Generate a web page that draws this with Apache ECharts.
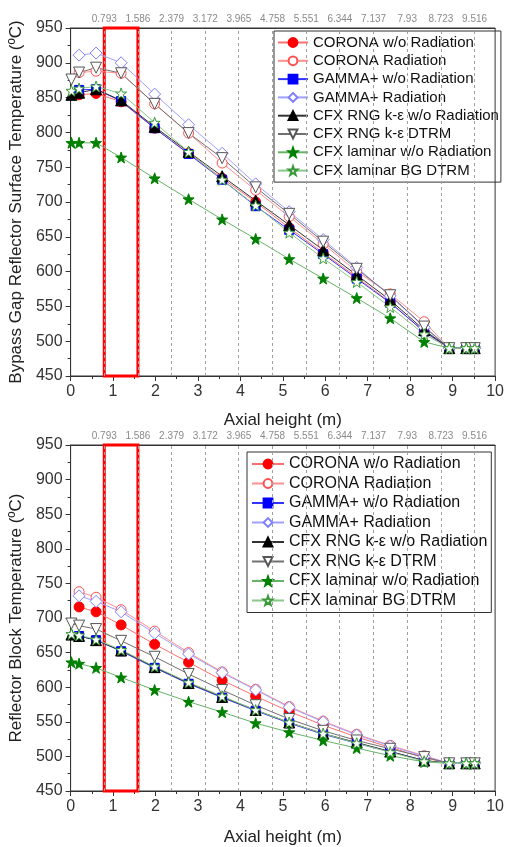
<!DOCTYPE html>
<html>
<head>
<meta charset="UTF-8">
<title>Reflector temperature</title>
<script src="https://cdn.jsdelivr.net/npm/echarts@6/dist/echarts.min.js"></script>
<style>
  html, body { margin: 0; padding: 0; background: #fff; }
  #main { width: 507px; height: 847px; }
</style>
</head>
<body>
<div id="main"></div>
<script>
// axial positions of the data points (m)
var axialX = [0.02, 0.2, 0.6, 1.19, 1.98, 2.78, 3.57, 4.36, 5.15, 5.95, 6.74, 7.53, 8.33, 8.92, 9.32, 9.52];
// block boundaries shown on the top axis / dashed lines
var blockTicks = [0.793, 1.586, 2.379, 3.172, 3.965, 4.758, 5.551, 6.344, 7.137, 7.93, 8.723, 9.516];

var seriesNames = [
  'CORONA w/o Radiation', 'CORONA Radiation',
  'GAMMA+ w/o Radiation', 'GAMMA+ Radiation',
  'CFX RNG k-ε w/o Radiation', 'CFX RNG k-ε DTRM',
  'CFX laminar w/o Radiation', 'CFX laminar BG DTRM'
];

// bypass gap reflector surface temperature (ºC)
var surfCoronaNoRad = [null, 854, 856, 844, 806, 770, 734, 700, 663, 627, 592, 556, 513, 490, 490, 490];
var surfCoronaRad   = [null, 886, 888, 885, 841, 799, 756, 717, 679, 640, 600, 568, 528, 490, 490, 490];
var surfGammaNoRad  = [null, 861, 862, 845, 806, 769, 732, 694, 660, 625, 590, 555, 514, 490, 490, 490];
var surfGammaRad    = [null, 911, 914, 900, 855, 811, 770, 726, 686, 646, 606, 565, 520, 490, 490, 490];
var surfRngNoRad    = [854, 857, 862, 846, 808, 772, 737, 702, 667, 631, 595, 559, 516, 490, 490, 490];
var surfRngDtrm     = [876, 886, 893, 885, 841, 799, 763, 721, 683, 643, 604, 566, 521, 490, 490, 490];
var surfLamNoRad    = [785, 785, 785, 764, 734, 704, 675, 647, 618, 590, 562, 533, 499, 490, 490, 490];
var surfLamDtrm     = [860, 863, 866, 856, 814, 772, 732, 695, 656, 619, 585, 549, 510, 490, 490, 490];

// reflector block temperature (ºC)
var blockCoronaNoRad = [null, 716, 709, 690, 662, 636, 610, 587, 565, 545, 528, 513, 498, 490, 490, 490];
var blockCoronaRad   = [null, 738, 730, 712, 681, 650, 622, 597, 572, 551, 532, 516, 501, 490, 490, 490];
var blockGammaNoRad  = [null, 674, 668, 652, 628, 605, 585, 566, 548, 532, 519, 507, 494, 490, 490, 490];
var blockGammaRad    = [null, 732, 724, 709, 678, 648, 621, 596, 571, 550, 531, 515, 500, 490, 490, 490];
var blockRngNoRad    = [676, 674, 668, 653, 629, 606, 586, 567, 549, 533, 520, 507, 494, 490, 490, 490];
var blockRngDtrm     = [692, 689, 684, 667, 644, 619, 596, 574, 554, 537, 523, 511, 499, 490, 490, 490];
var blockLamNoRad    = [636, 634, 628, 614, 596, 579, 564, 548, 535, 523, 512, 501, 492, 490, 490, 490];
var blockLamDtrm     = [677, 675, 669, 654, 630, 607, 587, 567, 549, 533, 519, 506, 493, 490, 490, 490];

var surfData = [surfCoronaNoRad, surfCoronaRad, surfGammaNoRad, surfGammaRad, surfRngNoRad, surfRngDtrm, surfLamNoRad, surfLamDtrm];
var blockData = [blockCoronaNoRad, blockCoronaRad, blockGammaNoRad, blockGammaRad, blockRngNoRad, blockRngDtrm, blockLamNoRad, blockLamDtrm];

var star = 'path://M0,-10L2.35,-3.24L9.51,-3.09L3.8,1.24L5.88,8.09L0,4L-5.88,8.09L-3.8,1.24L-9.51,-3.09L-2.35,-3.24Z';

// marker / line look per series
var looks = [
  {symbol: 'circle',   size: 10, fill: '#ff0000', border: '#ff0000', line: '#ff7070'},
  {symbol: 'circle',   size: 10, fill: '#ffffff', border: '#ff5050', line: '#ff9090'},
  {symbol: 'rect',     size: 9,  fill: '#0000ff', border: '#0000ff', line: '#3333ff'},
  {symbol: 'diamond',  size: 12, fill: '#ffffff', border: '#8080ff', line: '#a0a0ff'},
  {symbol: 'triangle', size: 11, fill: '#000000', border: '#000000', line: '#333333'},
  {symbol: 'triangle', size: 11, fill: '#ffffff', border: '#555555', line: '#707070', rotate: 180},
  {symbol: star,       size: 11, fill: '#008000', border: '#008000', line: '#66b366'},
  {symbol: star,       size: 11, fill: '#ffffff', border: '#3a9a3a', line: '#88c888'}
];

function pairs(vals) {
  var out = [];
  for (var i = 0; i < axialX.length; i++) {
    if (vals[i] != null) out.push([axialX[i], vals[i]]);
  }
  return out;
}

var series = [];
[surfData, blockData].forEach(function (set, g) {
  set.forEach(function (vals, k) {
    var lk = looks[k];
    var s = {
      name: seriesNames[k],
      type: 'line',
      xAxisIndex: g * 2,
      yAxisIndex: g,
      data: pairs(vals),
      symbol: lk.symbol,
      symbolSize: lk.size,
      symbolRotate: lk.rotate || 0,
      showAllSymbol: true,
      lineStyle: {color: lk.line, width: 1},
      itemStyle: {color: lk.fill, borderColor: lk.border, borderWidth: 1, opacity: 1},
      emphasis: {disabled: true}
    };
    if (k === 0) {
      s.markLine = {
        silent: true,
        symbol: ['none', 'none'],
        label: {show: false},
        lineStyle: {color: '#a0a0a0', type: [3, 3], width: 1},
        data: blockTicks.map(function (v) { return {xAxis: v}; })
      };
      s.markArea = {
        silent: true,
        itemStyle: {color: 'rgba(0,0,0,0)', borderColor: '#ff0000', borderWidth: 3},
        data: [[{xAxis: blockTicks[0], yAxis: 450}, {xAxis: blockTicks[1], yAxis: 950}]]
      };
    }
    series.push(s);
  });
});

function bottomAxis(g, nameGap) {
  return {
    type: 'value', gridIndex: g, position: 'bottom', min: 0, max: 10, interval: 1,
    name: 'Axial height (m)', nameLocation: 'middle', nameGap: nameGap,
    nameTextStyle: {fontSize: 17, color: '#222', fontFamily: 'Liberation Sans'},
    axisLine: {onZero: false, lineStyle: {color: '#333', width: 1}},
    axisTick: {length: 5, lineStyle: {color: '#333'}},
    minorTick: {show: true, splitNumber: 2, length: 3, lineStyle: {color: '#333'}},
    axisLabel: {fontSize: 16, color: '#333', margin: 8, fontFamily: 'Liberation Sans'},
    splitLine: {show: false}
  };
}
function topAxis(g) {
  return {
    type: 'value', gridIndex: g, position: 'top', min: 0, max: 10,
    axisLine: {onZero: false, lineStyle: {color: '#333', width: 1}},
    axisTick: {show: false},
    axisLabel: {customValues: blockTicks, fontSize: 10, color: '#8a8a8a', margin: 4,
      fontFamily: 'Liberation Sans', formatter: function (v) { return String(v); }},
    splitLine: {show: false}
  };
}
function leftAxis(g, name, nameGap) {
  return {
    type: 'value', gridIndex: g, min: 450, max: 950, interval: 50,
    name: name, nameLocation: 'middle', nameGap: nameGap,
    nameTextStyle: {fontSize: 17, color: '#222', fontFamily: 'Liberation Sans'},
    axisLine: {show: true, lineStyle: {color: '#333', width: 1}},
    axisTick: {show: true, length: 5, lineStyle: {color: '#333'}},
    minorTick: {show: true, splitNumber: 2, length: 3, lineStyle: {color: '#333'}},
    axisLabel: {fontSize: 16, color: '#333', margin: 8, fontFamily: 'Liberation Sans'},
    splitLine: {show: false}
  };
}

var chart = echarts.init(document.getElementById('main'));
chart.setOption({
  animation: false,
  backgroundColor: '#ffffff',
  grid: [
    {left: 69, right: 6, top: 28, height: 348, show: true, borderColor: '#333', borderWidth: 1},
    {left: 69, right: 7, top: 445, height: 347, show: true, borderColor: '#333', borderWidth: 1}
  ],
  xAxis: [bottomAxis(0, 36), topAxis(0), bottomAxis(1, 38), topAxis(1)],
  yAxis: [
    leftAxis(0, 'Bypass Gap Reflector Surface Temperature (ºC)', 41),
    leftAxis(1, 'Reflector Block Temperature (ºC)', 41)
  ],
  legend: [
    {
      data: seriesNames, orient: 'vertical', left: 274, top: 31,
      borderColor: '#333', borderWidth: 1, padding: [4, 2, 4, 3],
      itemWidth: 30, itemHeight: 11, itemGap: 3.3,
      textStyle: {fontSize: 15, color: '#111', fontFamily: 'Liberation Sans'},
      selectedMode: false
    },
    {
      data: seriesNames, orient: 'vertical', left: 247, top: 452,
      borderColor: '#333', borderWidth: 1, padding: [4, 4, 4, 4],
      itemWidth: 32, itemHeight: 11, itemGap: 3.5,
      textStyle: {fontSize: 16, color: '#111', fontFamily: 'Liberation Sans'},
      selectedMode: false
    }
  ],
  series: series
});
</script>
</body>
</html>
